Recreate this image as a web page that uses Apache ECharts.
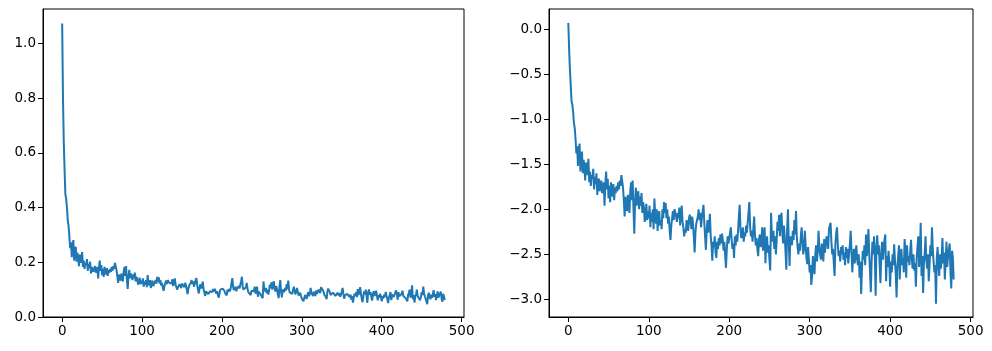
<!DOCTYPE html>
<html lang="en" style="height: 100%">
<head>
  <meta charset="utf-8">
</head>
<body style="height: 100%; margin: 0; background: #fff">
  <div id="container" style="width: 992px; height: 351px"></div>

  <script type="text/javascript" src="https://cdn.jsdelivr.net/npm/echarts@6/dist/echarts.min.js"></script>

  <script type="text/javascript">
    // left panel: raw values, one per step (0..479)
    var rawValues = [
      1.073, 0.803, 0.638, 0.538, 0.449, 0.432, 0.399, 0.353, 0.333, 0.295, 0.252, 0.273, 0.219, 0.262, 0.281, 0.206, 0.242, 0.257, 0.202, 0.235,
      0.219, 0.186, 0.228, 0.198, 0.212, 0.237, 0.183, 0.206, 0.176, 0.198, 0.190, 0.212, 0.169, 0.194, 0.179, 0.202, 0.159, 0.183, 0.190, 0.165,
      0.176, 0.186, 0.162, 0.172, 0.183, 0.141, 0.179, 0.206, 0.169, 0.190, 0.153, 0.176, 0.147, 0.183, 0.165, 0.156, 0.179, 0.150, 0.172, 0.162,
      0.176, 0.165, 0.183, 0.169, 0.186, 0.176, 0.198, 0.194, 0.172, 0.150, 0.125, 0.156, 0.141, 0.133, 0.159, 0.144, 0.130, 0.165, 0.183, 0.150,
      0.186, 0.135, 0.103, 0.147, 0.172, 0.141, 0.159, 0.165, 0.135, 0.156, 0.141, 0.162, 0.130, 0.147, 0.138, 0.118, 0.127, 0.144, 0.120, 0.133,
      0.122, 0.141, 0.111, 0.130, 0.118, 0.135, 0.109, 0.153, 0.127, 0.115, 0.135, 0.106, 0.125, 0.133, 0.113, 0.120, 0.109, 0.135, 0.122, 0.147,
      0.130, 0.145, 0.122, 0.135, 0.115, 0.125, 0.106, 0.096, 0.113, 0.122, 0.133, 0.120, 0.135, 0.138, 0.125, 0.118, 0.130, 0.122, 0.138, 0.113,
      0.127, 0.141, 0.118, 0.111, 0.100, 0.109, 0.104, 0.120, 0.113, 0.106, 0.122, 0.127, 0.118, 0.109, 0.125, 0.115, 0.100, 0.084, 0.104, 0.115,
      0.113, 0.125, 0.135, 0.120, 0.130, 0.111, 0.122, 0.133, 0.142, 0.118, 0.100, 0.086, 0.106, 0.120, 0.104, 0.113, 0.129, 0.100, 0.091, 0.077,
      0.094, 0.089, 0.100, 0.084, 0.079, 0.094, 0.087, 0.098, 0.091, 0.102, 0.093, 0.103, 0.096, 0.085, 0.094, 0.080, 0.071, 0.087, 0.100, 0.093,
      0.098, 0.104, 0.111, 0.096, 0.087, 0.093, 0.079, 0.100, 0.091, 0.102, 0.094, 0.106, 0.125, 0.142, 0.109, 0.098, 0.102, 0.111, 0.094, 0.104,
      0.100, 0.113, 0.104, 0.118, 0.130, 0.147, 0.111, 0.100, 0.106, 0.094, 0.109, 0.125, 0.102, 0.091, 0.098, 0.087, 0.080, 0.096, 0.102, 0.089,
      0.094, 0.111, 0.085, 0.098, 0.111, 0.074, 0.093, 0.100, 0.084, 0.091, 0.077, 0.069, 0.130, 0.102, 0.094, 0.106, 0.087, 0.100, 0.082, 0.096,
      0.118, 0.106, 0.127, 0.100, 0.122, 0.130, 0.104, 0.093, 0.113, 0.100, 0.084, 0.069, 0.109, 0.135, 0.094, 0.072, 0.100, 0.102, 0.091, 0.106,
      0.096, 0.120, 0.102, 0.133, 0.100, 0.089, 0.082, 0.093, 0.085, 0.100, 0.111, 0.094, 0.082, 0.087, 0.106, 0.091, 0.079, 0.074, 0.089, 0.077,
      0.067, 0.073, 0.058, 0.065, 0.080, 0.074, 0.066, 0.082, 0.091, 0.076, 0.084, 0.106, 0.089, 0.082, 0.077, 0.093, 0.085, 0.076, 0.097, 0.084,
      0.091, 0.100, 0.102, 0.087, 0.109, 0.113, 0.116, 0.094, 0.082, 0.087, 0.074, 0.065, 0.093, 0.104, 0.111, 0.091, 0.080, 0.085, 0.076, 0.089,
      0.082, 0.091, 0.077, 0.084, 0.073, 0.089, 0.079, 0.087, 0.074, 0.082, 0.093, 0.106, 0.085, 0.067, 0.080, 0.087, 0.074, 0.084, 0.091, 0.077,
      0.073, 0.082, 0.063, 0.076, 0.053, 0.070, 0.085, 0.077, 0.091, 0.073, 0.102, 0.080, 0.087, 0.109, 0.084, 0.067, 0.054, 0.076, 0.094, 0.082,
      0.100, 0.079, 0.052, 0.089, 0.101, 0.082, 0.091, 0.073, 0.060, 0.084, 0.094, 0.077, 0.087, 0.096, 0.102, 0.061, 0.080, 0.071, 0.085, 0.074,
      0.057, 0.076, 0.067, 0.082, 0.073, 0.092, 0.077, 0.066, 0.051, 0.071, 0.080, 0.091, 0.062, 0.082, 0.087, 0.073, 0.079, 0.067, 0.097, 0.084,
      0.063, 0.091, 0.076, 0.080, 0.073, 0.085, 0.096, 0.077, 0.070, 0.082, 0.069, 0.074, 0.057, 0.079, 0.089, 0.100, 0.071, 0.084, 0.116, 0.065,
      0.080, 0.053, 0.074, 0.084, 0.100, 0.077, 0.070, 0.082, 0.061, 0.073, 0.091, 0.080, 0.111, 0.087, 0.076, 0.067, 0.073, 0.047, 0.079, 0.089,
      0.073, 0.065, 0.082, 0.070, 0.077, 0.098, 0.074, 0.084, 0.062, 0.076, 0.094, 0.071, 0.080, 0.087, 0.093, 0.067, 0.056, 0.085, 0.079, 0.062
    ];

    // right panel: log values, same steps
    var logValues = [
      0.07, -0.22, -0.45, -0.62, -0.80, -0.84, -0.92, -1.04, -1.10, -1.22, -1.38, -1.30, -1.52, -1.34, -1.27, -1.58, -1.42, -1.36, -1.60, -1.45,
      -1.52, -1.68, -1.48, -1.62, -1.55, -1.44, -1.70, -1.58, -1.74, -1.62, -1.66, -1.55, -1.78, -1.64, -1.72, -1.60, -1.84, -1.70, -1.66, -1.80,
      -1.74, -1.68, -1.82, -1.76, -1.70, -1.96, -1.72, -1.58, -1.78, -1.66, -1.88, -1.74, -1.92, -1.70, -1.80, -1.86, -1.72, -1.90, -1.76, -1.82,
      -1.74, -1.80, -1.70, -1.78, -1.68, -1.74, -1.62, -1.64, -1.76, -1.90, -2.08, -1.86, -1.96, -2.02, -1.84, -1.94, -2.04, -1.80, -1.70, -1.90,
      -1.68, -2.00, -2.27, -1.92, -1.76, -1.96, -1.84, -1.80, -2.00, -1.86, -1.96, -1.82, -2.04, -1.92, -1.98, -2.14, -2.06, -1.94, -2.12, -2.02,
      -2.10, -1.96, -2.20, -2.04, -2.14, -2.00, -2.22, -1.88, -2.06, -2.16, -2.00, -2.24, -2.08, -2.02, -2.18, -2.12, -2.22, -2.00, -2.10, -1.92,
      -2.04, -1.93, -2.10, -2.00, -2.16, -2.08, -2.24, -2.34, -2.18, -2.10, -2.02, -2.12, -2.00, -1.98, -2.08, -2.14, -2.04, -2.10, -1.98, -2.18,
      -2.06, -1.96, -2.14, -2.20, -2.30, -2.22, -2.26, -2.12, -2.18, -2.24, -2.10, -2.06, -2.14, -2.22, -2.08, -2.16, -2.30, -2.48, -2.26, -2.16,
      -2.18, -2.08, -2.00, -2.12, -2.04, -2.20, -2.10, -2.02, -1.95, -2.14, -2.30, -2.45, -2.24, -2.12, -2.26, -2.18, -2.05, -2.30, -2.40, -2.57,
      -2.36, -2.42, -2.30, -2.48, -2.54, -2.36, -2.44, -2.32, -2.40, -2.28, -2.38, -2.27, -2.34, -2.46, -2.36, -2.52, -2.65, -2.44, -2.30, -2.38,
      -2.32, -2.26, -2.20, -2.34, -2.44, -2.38, -2.54, -2.30, -2.40, -2.28, -2.36, -2.24, -2.08, -1.95, -2.22, -2.32, -2.28, -2.20, -2.36, -2.26,
      -2.30, -2.18, -2.26, -2.14, -2.04, -1.92, -2.20, -2.30, -2.24, -2.36, -2.22, -2.08, -2.28, -2.40, -2.32, -2.44, -2.52, -2.34, -2.28, -2.42,
      -2.36, -2.20, -2.46, -2.32, -2.20, -2.60, -2.38, -2.30, -2.48, -2.40, -2.56, -2.68, -2.04, -2.28, -2.36, -2.24, -2.44, -2.30, -2.50, -2.34,
      -2.14, -2.24, -2.06, -2.30, -2.10, -2.04, -2.26, -2.38, -2.18, -2.30, -2.48, -2.67, -2.22, -2.00, -2.36, -2.63, -2.30, -2.28, -2.40, -2.24,
      -2.34, -2.12, -2.28, -2.02, -2.30, -2.42, -2.50, -2.38, -2.46, -2.30, -2.20, -2.36, -2.50, -2.44, -2.24, -2.40, -2.54, -2.61, -2.42, -2.56,
      -2.70, -2.62, -2.84, -2.74, -2.52, -2.60, -2.72, -2.50, -2.40, -2.58, -2.48, -2.24, -2.42, -2.50, -2.56, -2.38, -2.46, -2.58, -2.33, -2.48,
      -2.40, -2.30, -2.28, -2.44, -2.22, -2.18, -2.15, -2.36, -2.50, -2.44, -2.60, -2.74, -2.38, -2.26, -2.20, -2.40, -2.52, -2.46, -2.58, -2.42,
      -2.50, -2.40, -2.56, -2.48, -2.62, -2.42, -2.54, -2.44, -2.60, -2.50, -2.38, -2.24, -2.46, -2.70, -2.52, -2.44, -2.60, -2.48, -2.40, -2.56,
      -2.62, -2.50, -2.76, -2.58, -2.94, -2.66, -2.46, -2.56, -2.40, -2.62, -2.28, -2.52, -2.44, -2.22, -2.48, -2.70, -2.92, -2.58, -2.36, -2.50,
      -2.30, -2.54, -2.96, -2.42, -2.29, -2.50, -2.40, -2.62, -2.82, -2.48, -2.36, -2.56, -2.44, -2.34, -2.28, -2.80, -2.52, -2.64, -2.46, -2.60,
      -2.86, -2.58, -2.70, -2.50, -2.62, -2.39, -2.56, -2.72, -2.98, -2.64, -2.52, -2.40, -2.78, -2.50, -2.44, -2.62, -2.54, -2.70, -2.33, -2.48,
      -2.76, -2.40, -2.58, -2.52, -2.62, -2.46, -2.34, -2.56, -2.66, -2.50, -2.68, -2.60, -2.86, -2.54, -2.42, -2.30, -2.64, -2.48, -2.15, -2.74,
      -2.52, -2.93, -2.60, -2.48, -2.30, -2.56, -2.66, -2.50, -2.80, -2.62, -2.40, -2.52, -2.20, -2.44, -2.58, -2.70, -2.62, -3.05, -2.54, -2.42,
      -2.62, -2.74, -2.50, -2.66, -2.56, -2.32, -2.60, -2.48, -2.78, -2.58, -2.36, -2.64, -2.52, -2.44, -2.38, -2.70, -2.88, -2.46, -2.54, -2.78
    ];

    var xTicks = [0, 100, 200, 300, 400, 500];
    var leftYTicks = [0, 0.2, 0.4, 0.6, 0.8, 1.0];
    var rightYTicks = [-3.0, -2.5, -2.0, -1.5, -1.0, -0.5, 0.0];

    var font = 'DejaVu Sans';
    var lineColor = '#1f77b4';

    function toPairs(arr) {
      return arr.map(function (v, i) { return [i, v]; });
    }

    function fmt(v) {
      var s = Math.abs(v).toFixed(1);
      return v < -1e-9 ? '\u2212' + s : s;
    }

    function xAxis(gridIndex) {
      return {
        type: 'value', gridIndex: gridIndex,
        min: -24, max: 503,
        splitLine: { show: false },
        axisLine: { show: true, onZero: false, lineStyle: { color: '#000', width: 1 } },
        axisTick: { show: true, length: 5, customValues: xTicks, lineStyle: { color: '#000', width: 1 } },
        axisLabel: { customValues: xTicks, margin: 7, color: '#000', fontFamily: font, fontSize: 13.5 }
      };
    }

    function yAxis(gridIndex, min, max, ticks) {
      return {
        type: 'value', gridIndex: gridIndex,
        min: min, max: max,
        splitLine: { show: false },
        axisLine: { show: true, onZero: false, lineStyle: { color: '#000', width: 1 } },
        axisTick: { show: true, length: 5, customValues: ticks, lineStyle: { color: '#000', width: 1 } },
        axisLabel: { customValues: ticks, margin: 7, color: '#000', fontFamily: font, fontSize: 13.5, formatter: fmt }
      };
    }

    var chart = echarts.init(document.getElementById('container'), null, { renderer: 'canvas' });

    chart.setOption({
      animation: false,
      grid: [
        { left: 43, right: 528, top: 9, bottom: 34, show: true, borderColor: '#000', borderWidth: 1 },
        { left: 549, right: 19, top: 9, bottom: 34, show: true, borderColor: '#000', borderWidth: 1 }
      ],
      xAxis: [xAxis(0), xAxis(1)],
      yAxis: [
        yAxis(0, 0, 1.126, leftYTicks),
        yAxis(1, -3.196, 0.224, rightYTicks)
      ],
      series: [
        {
          type: 'line', xAxisIndex: 0, yAxisIndex: 0,
          data: toPairs(rawValues), showSymbol: false,
          lineStyle: { color: lineColor, width: 2 }
        },
        {
          type: 'line', xAxisIndex: 1, yAxisIndex: 1,
          data: toPairs(logValues), showSymbol: false,
          lineStyle: { color: lineColor, width: 2 }
        }
      ]
    });
  </script>
</body>
</html>
